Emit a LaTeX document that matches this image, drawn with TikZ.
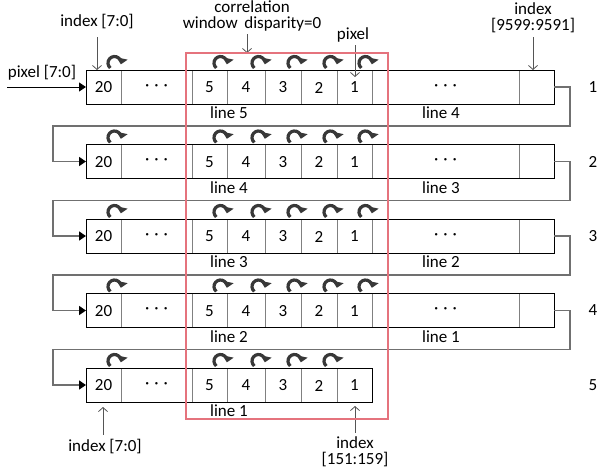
\documentclass[tikz,border=0pt]{standalone}
\usepackage{fontspec}
\setmainfont{Carlito}
\usetikzlibrary{arrows.meta,calc}
\definecolor{divgray}{HTML}{808080}
\definecolor{conngray}{HTML}{707070}
\definecolor{idxgray}{HTML}{555555}
\definecolor{curlgray}{HTML}{383838}
\definecolor{winred}{HTML}{E5737D}
\newcommand\tridots{·\hspace{5pt}·\hspace{5pt}·}
\begin{document}
\begin{tikzpicture}[x=1pt,y=-1pt,
  every node/.style={font=\fontsize{17}{16}\selectfont, inner sep=0pt, outer sep=0pt},
  cell/.style={draw=divgray, line width=0.9pt, minimum height=34pt, anchor=west},
  rowbox/.style={draw=black, line width=0.9pt, minimum height=34pt, anchor=west},
  conn/.style={draw=conngray, line width=1.5pt, -{Triangle[length=7pt,width=9pt,color=black]}},
  inarrow/.style={draw=black, line width=1pt, -{Triangle[length=7pt,width=9pt]}},
  idx/.style={draw=idxgray, line width=0.8pt, -{Straight Barb[length=4pt,width=9pt]}},
  curl/.style={draw=curlgray, line width=3.2pt, -{Triangle[length=6pt,width=11pt]}},
  window/.style={draw=winred, line width=1.2pt, anchor=north west}
]
\useasboundingbox (0,0) rectangle (597,475);

% cell layouts: left edge / width / content
\def\fullrow{86/35/20,121/71/\tridots,192/35/5,227/38/4,265/36/3,301/36/2,337/35/1,372/147/\tridots,519/35/{}}
\def\shortrow{86/35/20,121/71/\tridots,192/35/5,227/38/4,265/36/3,301/36/2,337/35/1}
\def\fullcurl{121,227,265,301,337,372}
\def\shortcurl{121,227,265,301,337}

\foreach \r in {1,...,5}{
  \pgfmathsetmacro\t{70+(\r-1)*74.5}
  \pgfmathsetmacro\m{\t+17}
  \ifnum\r<5
    \let\cells\fullrow \let\curls\fullcurl \def\rw{468}
  \else
    \let\cells\shortrow \let\curls\shortcurl \def\rw{286}
  \fi
  \foreach \x/\w/\s [count=\k] in \cells {
    \node[cell, minimum width=\w pt] (c\r-\k) at (\x,\m) {};
    \node at ($(c\r-\k.center)+(0,0.5)$) {\s};
  }
  \node[rowbox, minimum width=\rw pt] (R\r) at (86,\m) {};
  % shift arrows above the cell boundaries
  \foreach \b in \curls {
    \draw[curl] (\b-6.5,\t-7) ++(130:6.5) arc[start angle=130, end angle=372, radius=6.5];
  }
  % line labels and row number
  \pgfmathtruncatemacro\la{6-\r}
  \pgfmathtruncatemacro\lb{5-\r}
  \node (La\r) at (229,\t+43) {line \la};
  \ifnum\r<5
    \node (Lb\r) at (441,\t+43) {line \lb};
  \fi
  \node (N\r) at (593,\m) {\r};
}

% line feedback from the end of one row to the start of the next
\foreach \r [evaluate=\r as \n using int(\r+1), evaluate=\r as \yy using 70+(\r-1)*74.5+56] in {1,...,4}{
  \draw[conn] (R\r.east) -| (570,\yy) -- (53,\yy) |- (R\n.west);
}

% input
\node (pin) at (42,73) {pixel [7:0]};
\coordinate (pinstart) at (7,87);
\draw[inarrow] (pinstart) -- (R1.west);

% annotations
\node (idxA) at (97,22) {index [7:0]};
\draw[idx, shorten <=8pt] (idxA.south) -- (idxA.south |- R1.north);

\node[align=center] (corr) at (252,16) {correlation\\window\, disparity=0};
\coordinate (corrtip) at (247,53);
\draw[idx, shorten <=3pt] (corr.south -| corrtip) -- (corrtip);

\node (pix) at (353,35) {pixel};
\coordinate (pixtip) at (355,77);
\draw[idx, shorten <=3pt] (pix.south -| pixtip) -- (pixtip);

\node[align=center] (idxB) at (533,18) {index\\[0pt][9599:9591]};
\draw[idx, shorten <=4pt] (idxB.south) -- (idxB.south |- R1.north);

\node (idxC) at (105,447) {index [7:0]};
\coordinate (idxCtip) at (103,407);
\draw[idx, shorten <=5pt] (idxC.north -| idxCtip) -- (idxCtip);

\node[align=center] (idxD) at (355,452) {index\\[0pt][151:159]};
\coordinate (idxDtip) at (355,406);
\draw[idx, shorten <=4pt] (idxD.north) -- (idxDtip);

% correlation window
\node[window, minimum width=202pt, minimum height=366pt] (win) at (186,53) {};
\end{tikzpicture}
\end{document}
